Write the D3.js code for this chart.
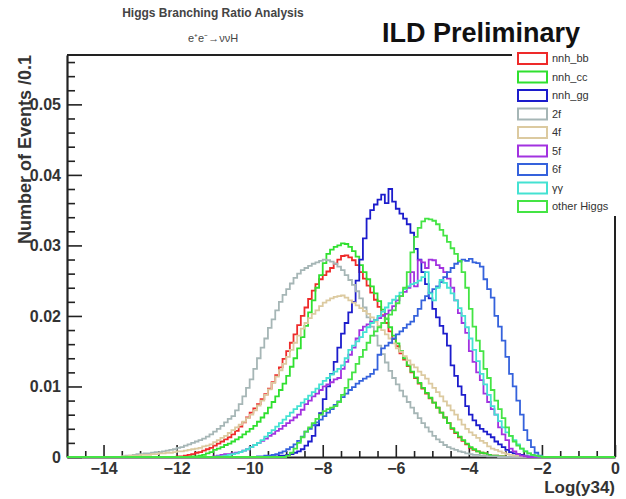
<!DOCTYPE html>
<html>
<head>
<meta charset="utf-8">
<script src="https://cdn.jsdelivr.net/npm/d3@7"></script>
<style>
  html, body { margin: 0; padding: 0; background: #fff; }
  svg { display: block; font-family: "Liberation Sans", Arial, sans-serif; }
</style>
</head>
<body>
<div id="chart"></div>
<script>
// Histogram contents, 0.1 wide bins starting at binStart, values in units of 1e-4
const binStart = -13.5;
const binWidth = 0.1;
const valueUnit = 1e-4;

const seriesNames = ['nnh_bb', 'nnh_cc', 'nnh_gg', '2f', '4f', '5f', '6f', 'γγ', 'other Higgs'];
const seriesColors = ['#ee2a2a', '#2fe02f', '#1c1ccc', '#a6b6b6', '#dccaa0', '#a232e0', '#3562dc', '#44e2d2', '#44e444'];

const nnhBB = [
  0,0,0,0,0,0,0,0,0,0,
  0,0,0,0,0,1,1,2,3,4,
  6,7,9,11,13,16,19,22,25,28,
  32,37,43,49,56,63,69,75,82,89,
  97,106,116,127,139,150,162,174,187,200,
  212,224,236,245,252,258,263,268,274,280,
  285,286,283,279,272,262,253,243,233,223,
  213,201,190,178,167,157,147,138,129,120,
  112,104,97,90,83,77,70,63,56,48,
  40,34,28,23,18,13,10,8,6,5,
  3,2,2,1,1,0,0,0,0,0,
  0,0,0,0,0
];
const nnhCC = [
  0,0,0,0,0,0,0,0,0,0,
  0,0,0,0,0,0,0,0,0,1,
  1,2,3,5,7,10,12,14,17,19,
  22,25,28,32,36,40,44,50,56,62,
  70,78,86,95,104,115,128,140,154,170,
  186,205,222,240,258,275,288,294,298,300,
  303,302,298,292,284,272,262,252,242,232,
  221,209,196,184,172,161,150,140,130,121,
  113,105,98,91,84,77,70,63,56,48,
  41,35,29,24,19,14,11,8,6,5,
  3,2,2,1,1,0,0,0,0,0,
  0,0,0,0,0
];
const nnhGG = [
  0,0,0,0,0,0,0,0,0,0,
  0,0,0,0,0,0,0,0,0,0,
  0,0,0,0,0,0,0,0,0,0,
  0,0,0,0,0,0,0,0,0,0,
  0,1,1,2,2,3,4,6,8,11,
  16,22,30,45,62,82,100,118,135,155,
  175,190,205,220,250,280,310,338,350,358,
  365,372,360,380,362,352,345,338,330,318,
  295,280,262,245,225,210,198,186,175,158,
  130,115,100,88,72,60,52,45,40,36,
  32,28,22,18,14,10,7,5,4,3,
  2,1,1,0,0
];
const twoF = [
  1,2,2,3,4,4,5,5,6,7,
  7,8,9,10,11,13,14,16,18,20,
  22,24,26,29,32,36,40,44,49,54,
  58,66,75,86,98,110,125,140,155,168,
  183,195,208,220,230,238,246,254,260,265,
  268,271,274,276,278,280,279,277,274,270,
  265,258,251,244,235,225,212,198,185,172,
  158,146,134,122,112,103,94,86,78,70,
  62,55,48,42,36,30,25,21,17,14,
  12,10,8,7,5,4,3,3,2,2,
  1,1,1,0,0,0,0,0,0,0,
  0,0,0,0,0
];
const fourF = [
  1,1,2,2,2,3,3,3,4,4,
  5,5,6,6,7,8,8,9,10,11,
  12,13,15,16,18,21,24,27,30,34,
  38,42,46,50,55,60,66,73,80,88,
  96,105,114,123,132,142,152,162,172,182,
  190,197,203,208,214,219,222,225,227,228,
  229,226,222,219,215,211,207,203,198,192,
  186,180,174,168,161,154,149,143,137,131,
  127,121,116,111,104,98,92,86,79,73,
  66,60,53,46,40,35,31,27,23,20,
  15,12,10,8,6,4,3,2,2,1,
  1,0,0,0,0
];
const fiveF = [
  0,0,0,0,0,0,0,0,0,0,
  0,0,0,0,0,0,0,0,0,0,
  0,0,0,0,0,1,2,3,4,4,
  5,6,7,9,11,14,17,20,23,26,
  30,33,37,40,44,48,52,56,60,67,
  75,80,86,90,95,100,103,106,110,112,
  125,135,145,155,168,180,185,188,192,194,
  197,200,203,208,214,222,228,234,240,262,
  242,279,276,268,280,279,272,268,262,253,
  240,222,204,190,176,150,135,120,109,90,
  78,68,60,42,32,24,12,8,4,2,
  1,0,0,0,0
];
const sixF = [
  0,0,0,0,0,0,0,0,0,0,
  0,0,0,0,0,0,0,0,0,0,
  0,0,0,0,0,0,0,0,0,0,
  0,0,0,0,0,0,0,1,1,2,
  2,3,4,6,8,11,14,18,23,29,
  36,40,45,49,53,58,63,68,74,79,
  85,90,95,99,104,108,111,114,118,124,
  145,154,158,162,168,174,178,183,188,192,
  200,210,222,228,233,238,242,248,255,262,
  268,274,277,280,278,281,276,275,270,252,
  238,226,200,185,165,142,118,100,80,60,
  38,24,14,6,2
];
const gammaGamma = [
  0,0,0,0,0,0,0,0,0,0,
  0,0,0,0,0,0,0,0,0,0,
  0,0,0,0,0,0,1,1,2,3,
  4,5,7,9,11,14,17,20,24,29,
  34,38,43,48,53,58,63,68,72,77,
  82,87,92,97,103,108,112,117,121,125,
  130,140,152,158,164,170,177,184,190,194,
  200,206,212,218,223,228,233,238,242,245,
  247,250,255,262,232,222,240,251,247,240,
  232,222,211,200,184,168,152,136,118,103,
  88,72,60,51,42,35,30,24,18,12,
  8,5,3,2,1
];
const otherHiggs = [
  0,0,0,0,0,0,0,0,0,0,
  0,0,0,0,0,0,0,0,0,0,
  0,0,0,0,0,0,0,0,0,0,
  0,0,0,0,0,0,0,0,0,0,
  0,0,0,0,0,2,6,12,20,28,
  36,42,48,54,60,65,68,70,72,78,
  88,98,110,120,132,142,152,162,172,178,
  184,190,196,202,208,218,228,240,262,290,
  312,325,334,338,337,335,330,322,314,305,
  296,288,278,262,240,210,185,165,150,125,
  112,95,80,68,55,42,30,22,16,12,
  8,5,3,2,1
];

const seriesValues = [nnhBB, nnhCC, nnhGG, twoF, fourF, fiveF, sixF, gammaGamma, otherHiggs];

const xTicks = [-14, -12, -10, -8, -6, -4, -2, 0];
const yTicks = [0, 0.01, 0.02, 0.03, 0.04, 0.05];

// ---- layout ----
const width = 626;
const height = 499;

const svg = d3.select('#chart')
  .append('svg')
  .attr('width', width)
  .attr('height', height);

const x = d3.scaleLinear().domain([-15, 0]).range([67, 615]);
const y = d3.scaleLinear().domain([0, 0.057]).range([457, 55]);

const nBins = Math.round(15 / binWidth);

// pad a series to the full -15..0 range and return step points
function fullBins(values) {
  const pts = [];
  for (let k = 0; k < nBins; k++) {
    const edge = -15 + k * binWidth;
    const idx = Math.round((edge - binStart) / binWidth);
    const v = idx >= 0 && idx < values.length ? values[idx] : 0;
    pts.push([edge, v * valueUnit]);
  }
  pts.push([0, pts[pts.length - 1][1]]);
  return pts;
}

// frame (top + right)
svg.append('line')
  .attr('x1', x(-15)).attr('x2', x(0))
  .attr('y1', y(0.057)).attr('y2', y(0.057))
  .attr('stroke', '#222').attr('stroke-width', 2);
svg.append('line')
  .attr('x1', x(0)).attr('x2', x(0))
  .attr('y1', y(0.057)).attr('y2', y(0))
  .attr('stroke', '#222').attr('stroke-width', 2);

// x axis
const xMinor = d3.range(-14.5, 0, 0.5).filter(v => Math.abs(v % 2) > 0.01);
svg.append('g')
  .attr('transform', `translate(0,${y(0)})`)
  .call(d3.axisBottom(x).tickValues(xMinor).tickSizeInner(-6).tickSizeOuter(0).tickFormat(''))
  .call(g => g.select('.domain').remove())
  .call(g => g.selectAll('line').attr('stroke', '#222').attr('stroke-width', 1.6));

const xAxis = svg.append('g')
  .attr('transform', `translate(0,${y(0)})`)
  .call(d3.axisBottom(x).tickValues(xTicks).tickSizeInner(-12).tickSizeOuter(0).tickPadding(6));
xAxis.select('.domain').attr('stroke', '#222').attr('stroke-width', 2.2);
xAxis.selectAll('line').attr('stroke', '#222').attr('stroke-width', 1.6);
xAxis.selectAll('text')
  .attr('fill', '#333')
  .style('font-size', '16px')
  .style('font-weight', 'bold');

// y axis
const yMinor = d3.range(0.002, 0.057, 0.002).filter(v => Math.abs(v / 0.01 - Math.round(v / 0.01)) > 0.01);
svg.append('g')
  .attr('transform', `translate(${x(-15)},0)`)
  .call(d3.axisLeft(y).tickValues(yMinor).tickSizeInner(-8).tickSizeOuter(0).tickFormat(''))
  .call(g => g.select('.domain').remove())
  .call(g => g.selectAll('line').attr('stroke', '#222').attr('stroke-width', 1.6));

const yAxis = svg.append('g')
  .attr('transform', `translate(${x(-15)},0)`)
  .call(d3.axisLeft(y).tickValues(yTicks).tickSizeInner(-15).tickSizeOuter(0).tickPadding(6)
    .tickFormat(d => d === 0 ? '0' : d.toFixed(2)));
yAxis.select('.domain').attr('stroke', '#222').attr('stroke-width', 2.2);
yAxis.selectAll('line').attr('stroke', '#222').attr('stroke-width', 1.6);
yAxis.selectAll('text')
  .attr('fill', '#333')
  .style('font-size', '16px')
  .style('font-weight', 'bold');

// histograms
const line = d3.line()
  .x(d => x(d[0]))
  .y(d => y(d[1]))
  .curve(d3.curveStepAfter);

svg.append('g')
  .attr('class', 'histos')
  .selectAll('path')
  .data(seriesValues)
  .enter()
  .append('path')
  .attr('d', d => line(fullBins(d)))
  .attr('fill', 'none')
  .attr('stroke', (d, i) => seriesColors[i])
  .attr('stroke-width', 1.8)
  .attr('stroke-linejoin', 'miter');

// axis titles
svg.append('text')
  .attr('transform', `translate(31,${y(0.057)}) rotate(-90)`)
  .attr('text-anchor', 'end')
  .attr('fill', '#333')
  .style('font-size', '18px')
  .style('font-weight', 'bold')
  .text('Number of Events /0.1');

svg.append('text')
  .attr('x', x(0))
  .attr('y', 493)
  .attr('text-anchor', 'end')
  .attr('fill', '#333')
  .style('font-size', '17px')
  .style('font-weight', 'bold')
  .text('Log(y34)');

// titles
svg.append('text')
  .attr('x', 213).attr('y', 17)
  .attr('text-anchor', 'middle')
  .attr('fill', '#444')
  .style('font-size', '12px')
  .style('font-weight', 'bold')
  .text('Higgs Branching Ratio Analysis');

svg.append('text')
  .attr('x', 213).attr('y', 42)
  .attr('text-anchor', 'middle')
  .attr('fill', '#444')
  .style('font-size', '11px')
  .text('e⁺e⁻→ννH');

svg.append('text')
  .attr('x', 481).attr('y', 42)
  .attr('text-anchor', 'middle')
  .attr('fill', '#111')
  .style('font-size', '27px')
  .style('font-weight', 'bold')
  .text('ILD Preliminary');

// legend
const legend = svg.append('g')
  .attr('class', 'legend')
  .attr('transform', 'translate(512, 48)');

legend.append('rect')
  .attr('width', 114)
  .attr('height', 168)
  .attr('fill', '#fff');

seriesNames.forEach((name, i) => {
  const g = legend.append('g')
    .attr('transform', `translate(6, ${10 + i * 18.5})`);
  g.append('rect')
    .attr('x', 0).attr('y', -5)
    .attr('width', 29).attr('height', 11)
    .attr('fill', '#fff')
    .attr('stroke', seriesColors[i])
    .attr('stroke-width', 2);
  g.append('text')
    .attr('x', 34).attr('y', 4)
    .attr('fill', '#333')
    .style('font-size', '11px')
    .text(name);
});
</script>
</body>
</html>
